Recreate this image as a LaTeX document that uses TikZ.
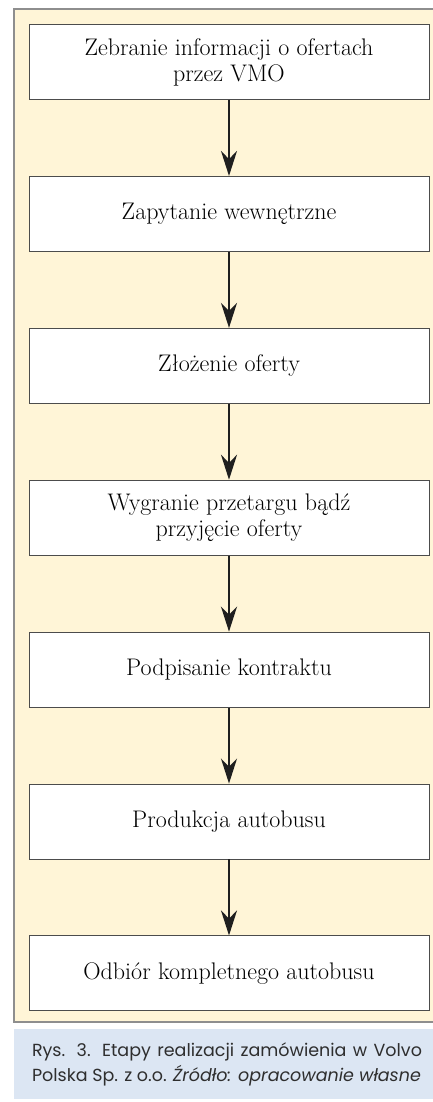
\documentclass[tikz,border=0pt]{standalone}
\usepackage{fontspec}
\newfontfamily\podpisfont{Poppins}
\usetikzlibrary{positioning,arrows.meta}
\definecolor{ramka}{HTML}{FFF5D7}
\definecolor{podpis}{HTML}{DCE6F3}
\definecolor{obrys}{HTML}{8E8E8E}

\begin{document}
\begin{tikzpicture}[x=1pt,y=-1pt,node distance=76pt]
	\tikzstyle{etap}=[draw=black!70,line width=0.9pt,fill=white,minimum width=400pt,minimum height=75pt,inner sep=0pt,align=center,font=\fontsize{24}{26}\selectfont]
	\tikzstyle{strzalka}=[line width=2.2pt,draw=black!88,-{Stealth[length=25pt,width=16pt]}]
	\useasboundingbox (0,0) rectangle (432,1102);
	%FRAME
	\draw[obrys,fill=ramka,line width=1.6pt] (14,9) rectangle (440,1022);
	\fill[podpis] (14,1029) rectangle (440,1099);
	%NODES
	\node[etap](e1) at (229,62) {Zebranie informacji o ofertach\\przez VMO};
	\node[etap](e2)[below=of e1]{Zapytanie wewnętrzne};
	\node[etap](e3)[below=of e2]{Złożenie oferty};
	\node[etap](e4)[below=of e3]{Wygranie przetargu bądź\\przyjęcie oferty};
	\node[etap](e5)[below=of e4]{Podpisanie kontraktu};
	\node[etap](e6)[below=of e5]{Produkcja autobusu};
	\node[etap](e7)[below=of e6]{Odbiór kompletnego autobusu};
	%PATHS
	\foreach \a/\b in {e1/e2,e2/e3,e3/e4,e4/e5,e5/e6,e6/e7}
		\draw[strzalka] (\a) -- (\b);
	%CAPTION
	\node[text width=390pt,inner sep=0pt,text=black!82,font=\podpisfont\fontsize{17.5}{25}\selectfont,align=justify] (rys) at (227,1064)
		{Rys. 3. Etapy realizacji zamówienia w Volvo\linebreak Polska Sp. z o.o. \textit{Źródło: opracowanie własne}};
\end{tikzpicture}
\end{document}
